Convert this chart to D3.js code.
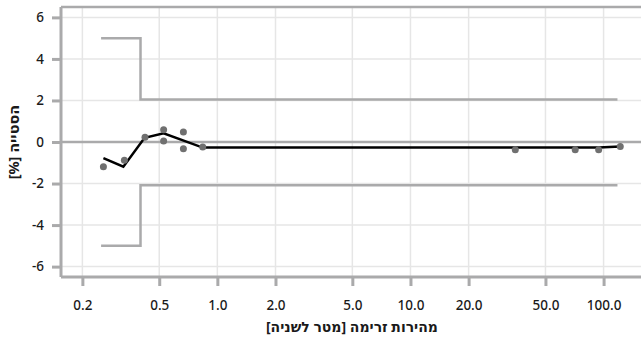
<!DOCTYPE html>
<html>
<head>
<meta charset="utf-8">
<script src="https://cdn.jsdelivr.net/npm/d3@7"></script>
<style>
  body { margin: 0; background: #fff; }
  svg { display: block; font-family: "Noto Sans", "DejaVu Sans", sans-serif; }
</style>
</head>
<body>
<div id="chart"></div>
<script>
// measured points
const speeds = [0.257, 0.33, 0.422, 0.527, 0.527, 0.667, 0.667, 0.84, 34.9, 71.3, 94.3, 122];
const deviations = [-1.19, -0.88, 0.23, 0.59, 0.05, 0.48, -0.32, -0.24, -0.37, -0.37, -0.37, -0.22];

// fitted curve
const curveX = [0.257, 0.326, 0.42, 0.527, 0.84, 94.3, 122];
const curveY = [-0.78, -1.19, 0.2, 0.42, -0.27, -0.27, -0.22];

// tolerance limits (step)
const limitX = [0.25, 0.4, 118];
const upperLimit = [5, 2.05, 2.05];
const lowerLimit = [-5, -2.08, -2.08];

const xTicks = [0.2, 0.5, 1, 2, 5, 10, 20, 50, 100];
const yTicks = [-6, -4, -2, 0, 2, 4, 6];

const width = 641, height = 343;
const margin = { top: 7, right: -2, bottom: 66, left: 61 };

const svg = d3.select("#chart").append("svg")
  .attr("width", width)
  .attr("height", height);

const x = d3.scaleLog()
  .domain([0.155, 160])
  .range([margin.left, width - margin.right]);

const y = d3.scaleLinear()
  .domain([-6.5, 6.5])
  .range([height - margin.bottom, margin.top]);

const axisColor = "#aaaaab";
const gridColor = "#e6e6e6";

// grid
svg.append("g").selectAll("line.vx")
  .data(xTicks)
  .join("line")
  .attr("x1", d => x(d)).attr("x2", d => x(d))
  .attr("y1", y(6.5)).attr("y2", y(-6.5))
  .attr("stroke", gridColor).attr("stroke-width", 1.5);

svg.append("g").selectAll("line.hy")
  .data(yTicks.filter(d => d !== 0))
  .join("line")
  .attr("x1", x(0.155)).attr("x2", width)
  .attr("y1", d => y(d)).attr("y2", d => y(d))
  .attr("stroke", gridColor).attr("stroke-width", 1.5);

// zero line
svg.append("line")
  .attr("x1", x(0.155)).attr("x2", width)
  .attr("y1", y(0)).attr("y2", y(0))
  .attr("stroke", axisColor).attr("stroke-width", 2.5);

// frame
svg.append("line")
  .attr("x1", margin.left).attr("x2", width)
  .attr("y1", y(6.5)).attr("y2", y(6.5))
  .attr("stroke", axisColor).attr("stroke-width", 2.5);

// x axis
const xAxis = svg.append("g")
  .attr("transform", `translate(0,${y(-6.5)})`)
  .call(d3.axisBottom(x).tickValues(xTicks).tickFormat(d3.format(".1f")).tickSize(9).tickPadding(14));

// y axis
const yAxis = svg.append("g")
  .attr("transform", `translate(${margin.left},0)`)
  .call(d3.axisLeft(y).tickValues(yTicks).tickFormat(d => String(d)).tickSize(9).tickPadding(8));

[xAxis, yAxis].forEach(g => {
  g.select(".domain").attr("stroke", axisColor).attr("stroke-width", 3);
  g.selectAll(".tick line").attr("stroke", axisColor).attr("stroke-width", 3);
  g.selectAll(".tick text")
    .attr("fill", "#1a1a1a")
    .style("font-size", "13.5px")
    .style("font-weight", "500")
    .style("font-family", "\"Noto Sans\", sans-serif");
});
xAxis.select(".domain").attr("d", `M${margin.left},0H${width}`);
yAxis.select(".domain").attr("d", `M0,${y(6.5)}V${y(-6.5)}`);

// limits
const stepLine = d3.line()
  .x(d => x(d[0]))
  .y(d => y(d[1]))
  .curve(d3.curveStepAfter);

[upperLimit, lowerLimit].forEach(lim => {
  svg.append("path")
    .datum(limitX.map((v, i) => [v, lim[i]]))
    .attr("d", stepLine)
    .attr("fill", "none")
    .attr("stroke", axisColor)
    .attr("stroke-width", 2.5);
});

// fitted curve
svg.append("path")
  .datum(curveX.map((v, i) => [v, curveY[i]]))
  .attr("d", d3.line().x(d => x(d[0])).y(d => y(d[1])))
  .attr("fill", "none")
  .attr("stroke", "#000")
  .attr("stroke-width", 2.5)
  .attr("stroke-linejoin", "miter");

// points
svg.append("g").selectAll("circle")
  .data(speeds.map((v, i) => [v, deviations[i]]))
  .join("circle")
  .attr("cx", d => x(d[0]))
  .attr("cy", d => y(d[1]))
  .attr("r", 3.5)
  .attr("fill", "#707070");

// titles
svg.append("text")
  .attr("x", 352)
  .attr("y", 332)
  .attr("text-anchor", "middle")
  .attr("direction", "rtl")
  .style("font-size", "14px")
  .style("font-weight", "bold")
  .attr("fill", "#1a1a1a")
  .text("מהירות זרימה [מטר לשניה]");

svg.append("text")
  .attr("transform", `translate(19,${(y(6.5) + y(-6.5)) / 2}) rotate(-90)`)
  .attr("text-anchor", "middle")
  .attr("direction", "rtl")
  .style("font-size", "14.5px")
  .style("font-weight", "bold")
  .attr("fill", "#1a1a1a")
  .text("הסטייה [%]");
</script>
</body>
</html>
